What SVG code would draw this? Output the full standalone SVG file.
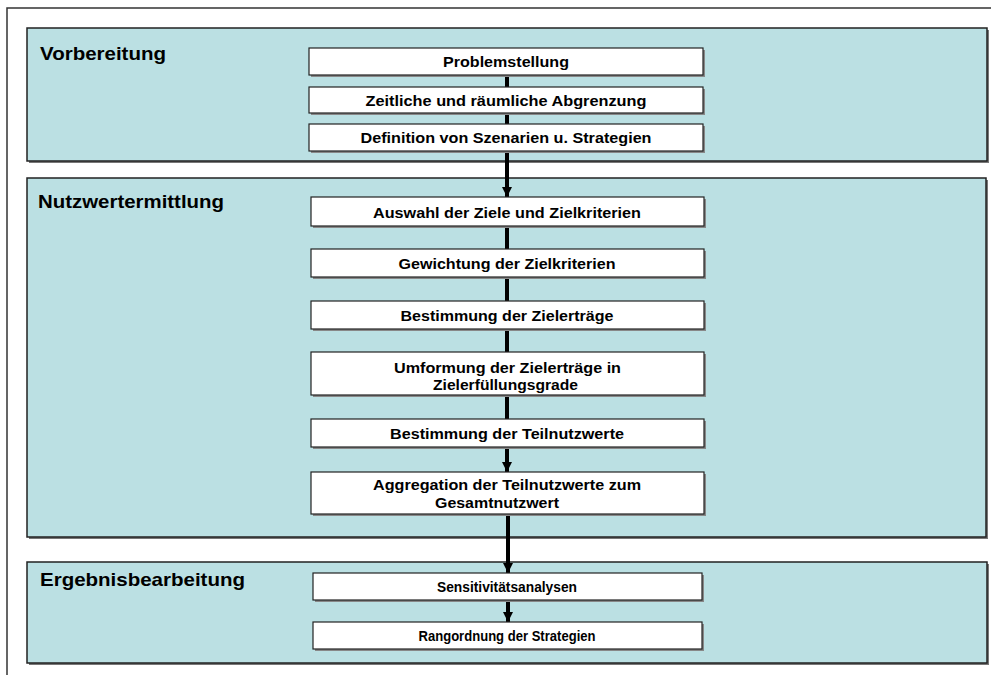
<svg xmlns="http://www.w3.org/2000/svg" width="991" height="675" viewBox="0 0 991 675">
<defs>
<style>
.panel{fill:#BBE0E3;stroke:#222;stroke-width:1.5}
.pshadow{fill:#777}
.box{fill:#fff;stroke:#222;stroke-width:1.2}
.bshadow{fill:#888}
.title{font-family:"Liberation Sans",Arial,sans-serif;font-weight:bold;font-size:18.5px;fill:#000}
.lbl{font-family:"Liberation Sans",Arial,sans-serif;font-weight:bold;font-size:15.5px;fill:#000;text-anchor:middle}
.lbs{font-family:"Liberation Sans",Arial,sans-serif;font-weight:bold;font-size:15px;fill:#000;text-anchor:middle}
.conn{stroke:#000;stroke-width:4;fill:none}
</style>
<marker id="ah" viewBox="0 0 10 10" refX="10" refY="5" markerWidth="2.6" markerHeight="2.6" orient="auto" markerUnits="strokeWidth">
<path d="M0,0 L10,5 L0,10 z" fill="#000"/>
</marker>
</defs>
<rect width="991" height="675" fill="#fff"/>
<path d="M7,675 V8 H991" fill="none" stroke="#333" stroke-width="1.5"/>

<g id="panel-vorbereitung">
<rect class="pshadow" x="29" y="30" width="960" height="133"/>
<rect class="panel" x="27" y="28" width="960" height="133"/>
<text class="title" x="40" y="60" textLength="126" lengthAdjust="spacingAndGlyphs">Vorbereitung</text>
</g>
<g id="panel-nutzwertermittlung">
<rect class="pshadow" x="29" y="180" width="959" height="359"/>
<rect class="panel" x="27" y="178" width="959" height="359"/>
<text class="title" x="38" y="207.5" textLength="186" lengthAdjust="spacingAndGlyphs">Nutzwertermittlung</text>
</g>
<g id="panel-ergebnisbearbeitung">
<rect class="pshadow" x="29" y="564" width="960" height="101"/>
<rect class="panel" x="27" y="562" width="960" height="101"/>
<text class="title" x="40" y="586" textLength="205" lengthAdjust="spacingAndGlyphs">Ergebnisbearbeitung</text>
</g>

<g id="connectors">
<line class="conn" x1="507" y1="75" x2="507" y2="87"/>
<line class="conn" x1="507" y1="113" x2="507" y2="124"/>
<line class="conn" x1="507" y1="151" x2="507" y2="197" marker-end="url(#ah)"/>
<line class="conn" x1="507" y1="226" x2="507" y2="249"/>
<line class="conn" x1="507" y1="277" x2="507" y2="301"/>
<line class="conn" x1="507" y1="329" x2="507" y2="352"/>
<line class="conn" x1="507" y1="395" x2="507" y2="419"/>
<line class="conn" x1="507" y1="447" x2="507" y2="472" marker-end="url(#ah)"/>
<line class="conn" x1="508" y1="514" x2="508" y2="573" marker-end="url(#ah)" stroke-width="5"/>
<line class="conn" x1="508" y1="600" x2="508" y2="622" marker-end="url(#ah)"/>
</g>

<g id="n-problemstellung">
<rect class="bshadow" x="311" y="50" width="394" height="27"/>
<rect class="box" x="309" y="48" width="394" height="27"/>
<text class="lbl" x="506" y="67" textLength="126" lengthAdjust="spacingAndGlyphs">Problemstellung</text>
</g>
<g id="n-abgrenzung">
<rect class="bshadow" x="311" y="89" width="394" height="26"/>
<rect class="box" x="309" y="87" width="394" height="26"/>
<text class="lbl" x="506" y="105.5" textLength="281" lengthAdjust="spacingAndGlyphs">Zeitliche und räumliche Abgrenzung</text>
</g>
<g id="n-definition">
<rect class="bshadow" x="311" y="126" width="394" height="27"/>
<rect class="box" x="309" y="124" width="394" height="27"/>
<text class="lbl" x="506" y="143" textLength="291" lengthAdjust="spacingAndGlyphs">Definition von Szenarien u. Strategien</text>
</g>

<g id="n-auswahl">
<rect class="bshadow" x="313" y="199" width="393" height="29"/>
<rect class="box" x="311" y="197" width="393" height="29"/>
<text class="lbl" x="507" y="217.5" textLength="268" lengthAdjust="spacingAndGlyphs">Auswahl der Ziele und Zielkriterien</text>
</g>
<g id="n-gewichtung">
<rect class="bshadow" x="313" y="251" width="393" height="28"/>
<rect class="box" x="311" y="249" width="393" height="28"/>
<text class="lbl" x="507" y="268.5" textLength="217" lengthAdjust="spacingAndGlyphs">Gewichtung der Zielkriterien</text>
</g>
<g id="n-zielertraege">
<rect class="bshadow" x="313" y="303" width="393" height="28"/>
<rect class="box" x="311" y="301" width="393" height="28"/>
<text class="lbl" x="507" y="320.5" textLength="213" lengthAdjust="spacingAndGlyphs">Bestimmung der Zielerträge</text>
</g>
<g id="n-umformung">
<rect class="bshadow" x="313" y="354" width="393" height="43"/>
<rect class="box" x="311" y="352" width="393" height="43"/>
<text class="lbl" x="507.5" y="373" textLength="227" lengthAdjust="spacingAndGlyphs">Umformung der Zielerträge in</text>
<text class="lbl" x="505.5" y="390" textLength="145" lengthAdjust="spacingAndGlyphs">Zielerfüllungsgrade</text>
</g>
<g id="n-teilnutzwerte">
<rect class="bshadow" x="313" y="421" width="393" height="28"/>
<rect class="box" x="311" y="419" width="393" height="28"/>
<text class="lbl" x="507" y="438.5" textLength="234" lengthAdjust="spacingAndGlyphs">Bestimmung der Teilnutzwerte</text>
</g>
<g id="n-aggregation">
<rect class="bshadow" x="313" y="474" width="393" height="42"/>
<rect class="box" x="311" y="472" width="393" height="42"/>
<text class="lbl" x="507" y="490" textLength="268" lengthAdjust="spacingAndGlyphs">Aggregation der Teilnutzwerte zum</text>
<text class="lbl" x="497" y="507.5" textLength="124" lengthAdjust="spacingAndGlyphs">Gesamtnutzwert</text>
</g>

<g id="n-sensitivitaet">
<rect class="bshadow" x="315" y="575" width="389" height="27"/>
<rect class="box" x="313" y="573" width="389" height="27"/>
<text class="lbs" x="507" y="592" textLength="140" lengthAdjust="spacingAndGlyphs">Sensitivitätsanalysen</text>
</g>
<g id="n-rangordnung">
<rect class="bshadow" x="315" y="624" width="389" height="27"/>
<rect class="box" x="313" y="622" width="389" height="27"/>
<text class="lbs" x="507" y="641" textLength="177" lengthAdjust="spacingAndGlyphs">Rangordnung der Strategien</text>
</g>
</svg>
